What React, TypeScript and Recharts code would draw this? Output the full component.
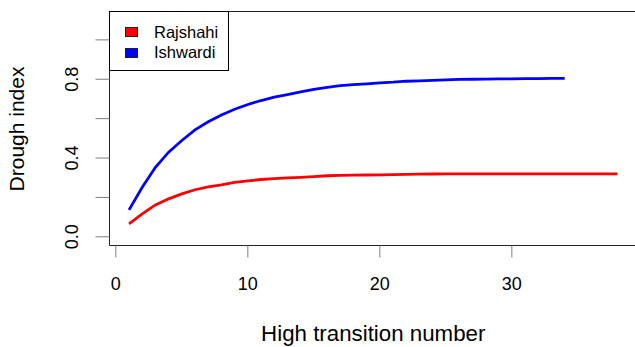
import { LineChart, Line, XAxis, YAxis, Legend, ReferenceArea } from 'recharts'

// transitions 1..38 (Rajshahi), 1..34 (Ishwardi)
const rajshahi = [
  0.066, 0.117, 0.162, 0.193, 0.218, 0.239, 0.254, 0.264, 0.276, 0.284,
  0.291, 0.296, 0.299, 0.302, 0.306, 0.31, 0.312, 0.313, 0.314, 0.315,
  0.316, 0.317, 0.318, 0.319, 0.32, 0.32, 0.32, 0.32, 0.32, 0.32,
  0.32, 0.32, 0.32, 0.32, 0.32, 0.32, 0.32, 0.32,
]
const ishwardi = [
  0.137, 0.252, 0.353, 0.43, 0.489, 0.543, 0.584, 0.619, 0.648, 0.672,
  0.692, 0.709, 0.722, 0.736, 0.749, 0.759, 0.768, 0.773, 0.777, 0.782,
  0.785, 0.79, 0.792, 0.794, 0.797, 0.799, 0.8, 0.801, 0.802, 0.802,
  0.803, 0.803, 0.804, 0.804,
]
const xTicks = [0, 10, 20, 30]
const yTicks = [0, 0.2, 0.4, 0.6, 0.8, 1.0]
const yLabels = ['0.0', '0.4', '0.8']
const xDomain = [-0.48, 39.48]
const yDomain = [-0.044, 1.144]

const series = [
  { key: 'rajshahi', name: 'Rajshahi', color: '#ff0000' },
  { key: 'ishwardi', name: 'Ishwardi', color: '#0000ff' },
]

const data = rajshahi.map((v, i) => ({
  x: i + 1,
  rajshahi: v,
  ishwardi: i < ishwardi.length ? ishwardi[i] : null,
}))

const FONT = '"Liberation Sans", Arial, sans-serif'

const XTick = ({ x, y, payload }: any) => (
  <text x={x} y={y + 30.5} textAnchor="middle" fontSize={18} fontFamily={FONT} fill="#000">
    {payload.value}
  </text>
)

const YTick = ({ x, y, payload }: any) => {
  const label = yLabels.find((l) => Math.abs(parseFloat(l) - payload.value) < 1e-6)
  if (!label) return null
  const tx = x - 15.5
  return (
    <text x={tx} y={y} transform={`rotate(-90, ${tx}, ${y})`} textAnchor="middle"
      fontSize={18} fontFamily={FONT} fill="#000">
      {label}
    </text>
  )
}

const YTitle = (props: any) => {
  const vb = props.viewBox
  const cy = vb ? vb.y + vb.height / 2 + 0.5 : 129
  return (
    <text x={24} y={cy} transform={`rotate(-90, 24, ${cy})`} textAnchor="middle"
      fontSize={21} fontFamily={FONT} fill="#000">
      Drough index
    </text>
  )
}

const LegendBox = () => (
  <div style={{
    position: 'relative',
    width: 120,
    height: 60,
    boxSizing: 'border-box',
    border: '1px solid #000',
    background: '#fff',
    fontFamily: FONT,
    fontSize: 16.5,
  }}>
    {series.map((s, i) => (
      <div key={s.key} style={{
        position: 'absolute',
        left: 14.5,
        top: 10 + i * 20.7,
        height: 20,
        display: 'flex',
        alignItems: 'center',
        whiteSpace: 'nowrap',
      }}>
        <span style={{
          display: 'inline-block',
          width: 13,
          height: 10,
          boxSizing: 'border-box',
          background: s.color,
          border: '1px solid #222',
          marginRight: 16.5,
        }} />
        <span>{s.name}</span>
      </div>
    ))}
  </div>
)

export default function App() {
  return (
    <div style={{ position: 'absolute', left: 0, top: 0, width: 635, height: 347, overflow: 'hidden', background: '#fff' }}>
      <LineChart width={640} height={347} data={data}
        margin={{ top: 11.5, right: 3, bottom: 0, left: 0 }}>
        <XAxis
          dataKey="x"
          type="number"
          domain={xDomain}
          ticks={xTicks}
          allowDataOverflow
          height={101.5}
          axisLine={false}
          tickLine={{ stroke: '#7f7f7f' }}
          tickSize={12}
          tick={<XTick />}
          label={{ value: 'High transition number', position: 'insideBottom', offset: 6, fill: '#000', fontSize: 22.3, fontFamily: FONT }}
        />
        <YAxis
          type="number"
          domain={yDomain}
          ticks={yTicks}
          allowDataOverflow
          width={109.5}
          axisLine={false}
          tickLine={{ stroke: '#7f7f7f' }}
          tickSize={14}
          tick={<YTick />}
          label={{ content: <YTitle /> }}
        />
        <ReferenceArea x1={xDomain[0]} x2={xDomain[1]} y1={yDomain[0]} y2={yDomain[1]}
          fill="none" stroke="#222" strokeWidth={1} ifOverflow="visible" />
        {series.map((s) => (
          <Line key={s.key} type="linear" dataKey={s.key} name={s.name} stroke={s.color}
            strokeWidth={2.8} dot={false} activeDot={false} isAnimationActive={false} />
        ))}
        <Legend layout="vertical" align="center" verticalAlign="middle" content={<LegendBox />}
          wrapperStyle={{ left: 109, top: 11, width: 120, height: 60 }} />
      </LineChart>
    </div>
  )
}
